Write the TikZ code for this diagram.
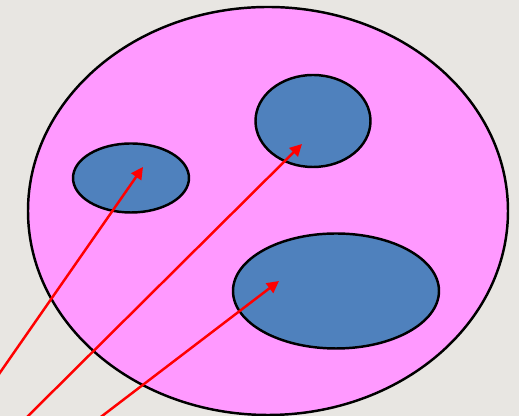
\documentclass[tikz,border=0pt]{standalone}
\usepackage{tikz}
\usetikzlibrary{arrows.meta, positioning, shapes.geometric}
\usepackage{xcolor}

\definecolor{paper}{HTML}{E8E6E2}
\definecolor{setpink}{HTML}{FF99FF}
\definecolor{subblue}{HTML}{4F81BD}

\begin{document}
\begin{tikzpicture}[
    every node/.style={ellipse, draw, line width=1.4pt, inner sep=0pt, outer sep=0pt},
    outerset/.style={fill=setpink},
    subset/.style={fill=subblue},
    pointer/.style={red, line width=1.4pt, -{Triangle[length=2.4mm, width=2.4mm]}}
]

% Background
\fill[paper] (0,0) rectangle (10.38,8.32);
\useasboundingbox (0,0) rectangle (10.38,8.32);
\clip (0,0) rectangle (10.38,8.32);

% Nodes
\node (universe) [outerset, minimum width=9.6cm, minimum height=8.16cm] at (5.36,4.10) {};
\node (smallset) [subset, minimum width=2.32cm, minimum height=1.38cm] at (2.62,4.76) {};
\node (topset) [subset, minimum width=2.30cm, minimum height=1.84cm] at (6.26,5.90) {};
\node (bigset) [subset, minimum width=4.12cm, minimum height=2.30cm] at (6.72,2.50) {};

% Arrow ends
\coordinate (startA) at (-0.2,0.58);
\coordinate (startB) at (0.36,-0.2);
\coordinate (startC) at (1.78,-0.2);
\coordinate (tipA) at ([shift={(0.24,0.22)}]smallset.center);
\coordinate (tipB) at ([shift={(-0.22,-0.46)}]topset.center);
\coordinate (tipC) at ([shift={(-1.14,0.20)}]bigset.center);

% Arrows
\draw[pointer] (startA) -- (tipA);
\draw[pointer] (startB) -- (tipB);
\draw[pointer] (startC) -- (tipC);

\end{tikzpicture}
\end{document}
